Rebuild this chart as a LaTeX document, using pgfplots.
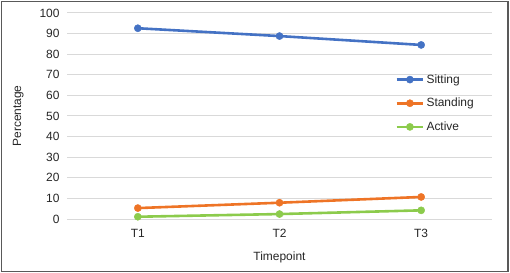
\documentclass[border=0pt]{standalone}
\usepackage{pgfplots}
\pgfplotsset{compat=1.18}
\usepackage{fontspec}
\setmainfont{Liberation Sans}
\definecolor{cblue}{HTML}{4472C4}
\definecolor{corange}{HTML}{EE7426}
\definecolor{cgreen}{HTML}{8CCB4C}
\definecolor{cgrid}{HTML}{D9D9D9}
\begin{document}
\begin{tikzpicture}
\useasboundingbox (0,0) rectangle (510bp,273bp);
\draw[line width=1.5bp, color=black!65] (1.5bp,1.5bp) rectangle (508bp,271.5bp);
\begin{axis}[
  at={(67bp,54bp)}, anchor=south west,
  scale only axis, width=425bp, height=206bp,
  xmin=0.5, xmax=3.5, ymin=0, ymax=100,
  xtick={1,2,3}, xticklabels={T1,T2,T3},
  ytick={0,10,...,100},
  axis line style={draw=none},
  major tick length=0pt,
  ymajorgrids, grid style={cgrid, line width=1bp},
  tick label style={font=\fontsize{12}{14}\selectfont, text=black!85},
  /pgf/number format/assume math mode=true,
  yticklabel style={xshift=-4bp},
  xticklabel style={yshift=-7bp},
  xlabel={Timepoint}, ylabel={Percentage},
  label style={font=\fontsize{12}{14}\selectfont, text=black!85},
  xlabel style={yshift=-7bp},
  ylabel style={yshift=9bp},
  clip=false,
  legend style={draw=none, fill=none, at={(0.772,0.712)}, anchor=north west,
    font=\fontsize{12}{14}\selectfont, text=black!85,
    row sep=9.5bp, inner sep=0pt,
    cells={anchor=west}, /tikz/every even column/.append style={column sep=1bp}},
  legend image code/.code={
    \draw[mark repeat=2,mark phase=2,#1] plot coordinates {(0cm,0cm) (0.47cm,0cm) (0.94cm,0cm)};},
  every axis plot/.append style={line width=2.6bp, mark=*, mark size=3.6bp},
]
\addplot[cblue, mark options={solid, fill=cblue, draw=cblue, line width=0.4bp}] coordinates {(1,92.6) (2,88.8) (3,84.5)};
\addlegendentry{Sitting}
\addplot[corange, mark options={solid, fill=corange, draw=corange, line width=0.4bp}] coordinates {(1,5.3) (2,7.9) (3,10.7)};
\addlegendentry{Standing}
\addplot[cgreen, mark options={solid, fill=cgreen, draw=cgreen, line width=0.4bp}] coordinates {(1,1.1) (2,2.4) (3,4.2)};
\addlegendentry{Active}
\end{axis}
\end{tikzpicture}
\end{document}
